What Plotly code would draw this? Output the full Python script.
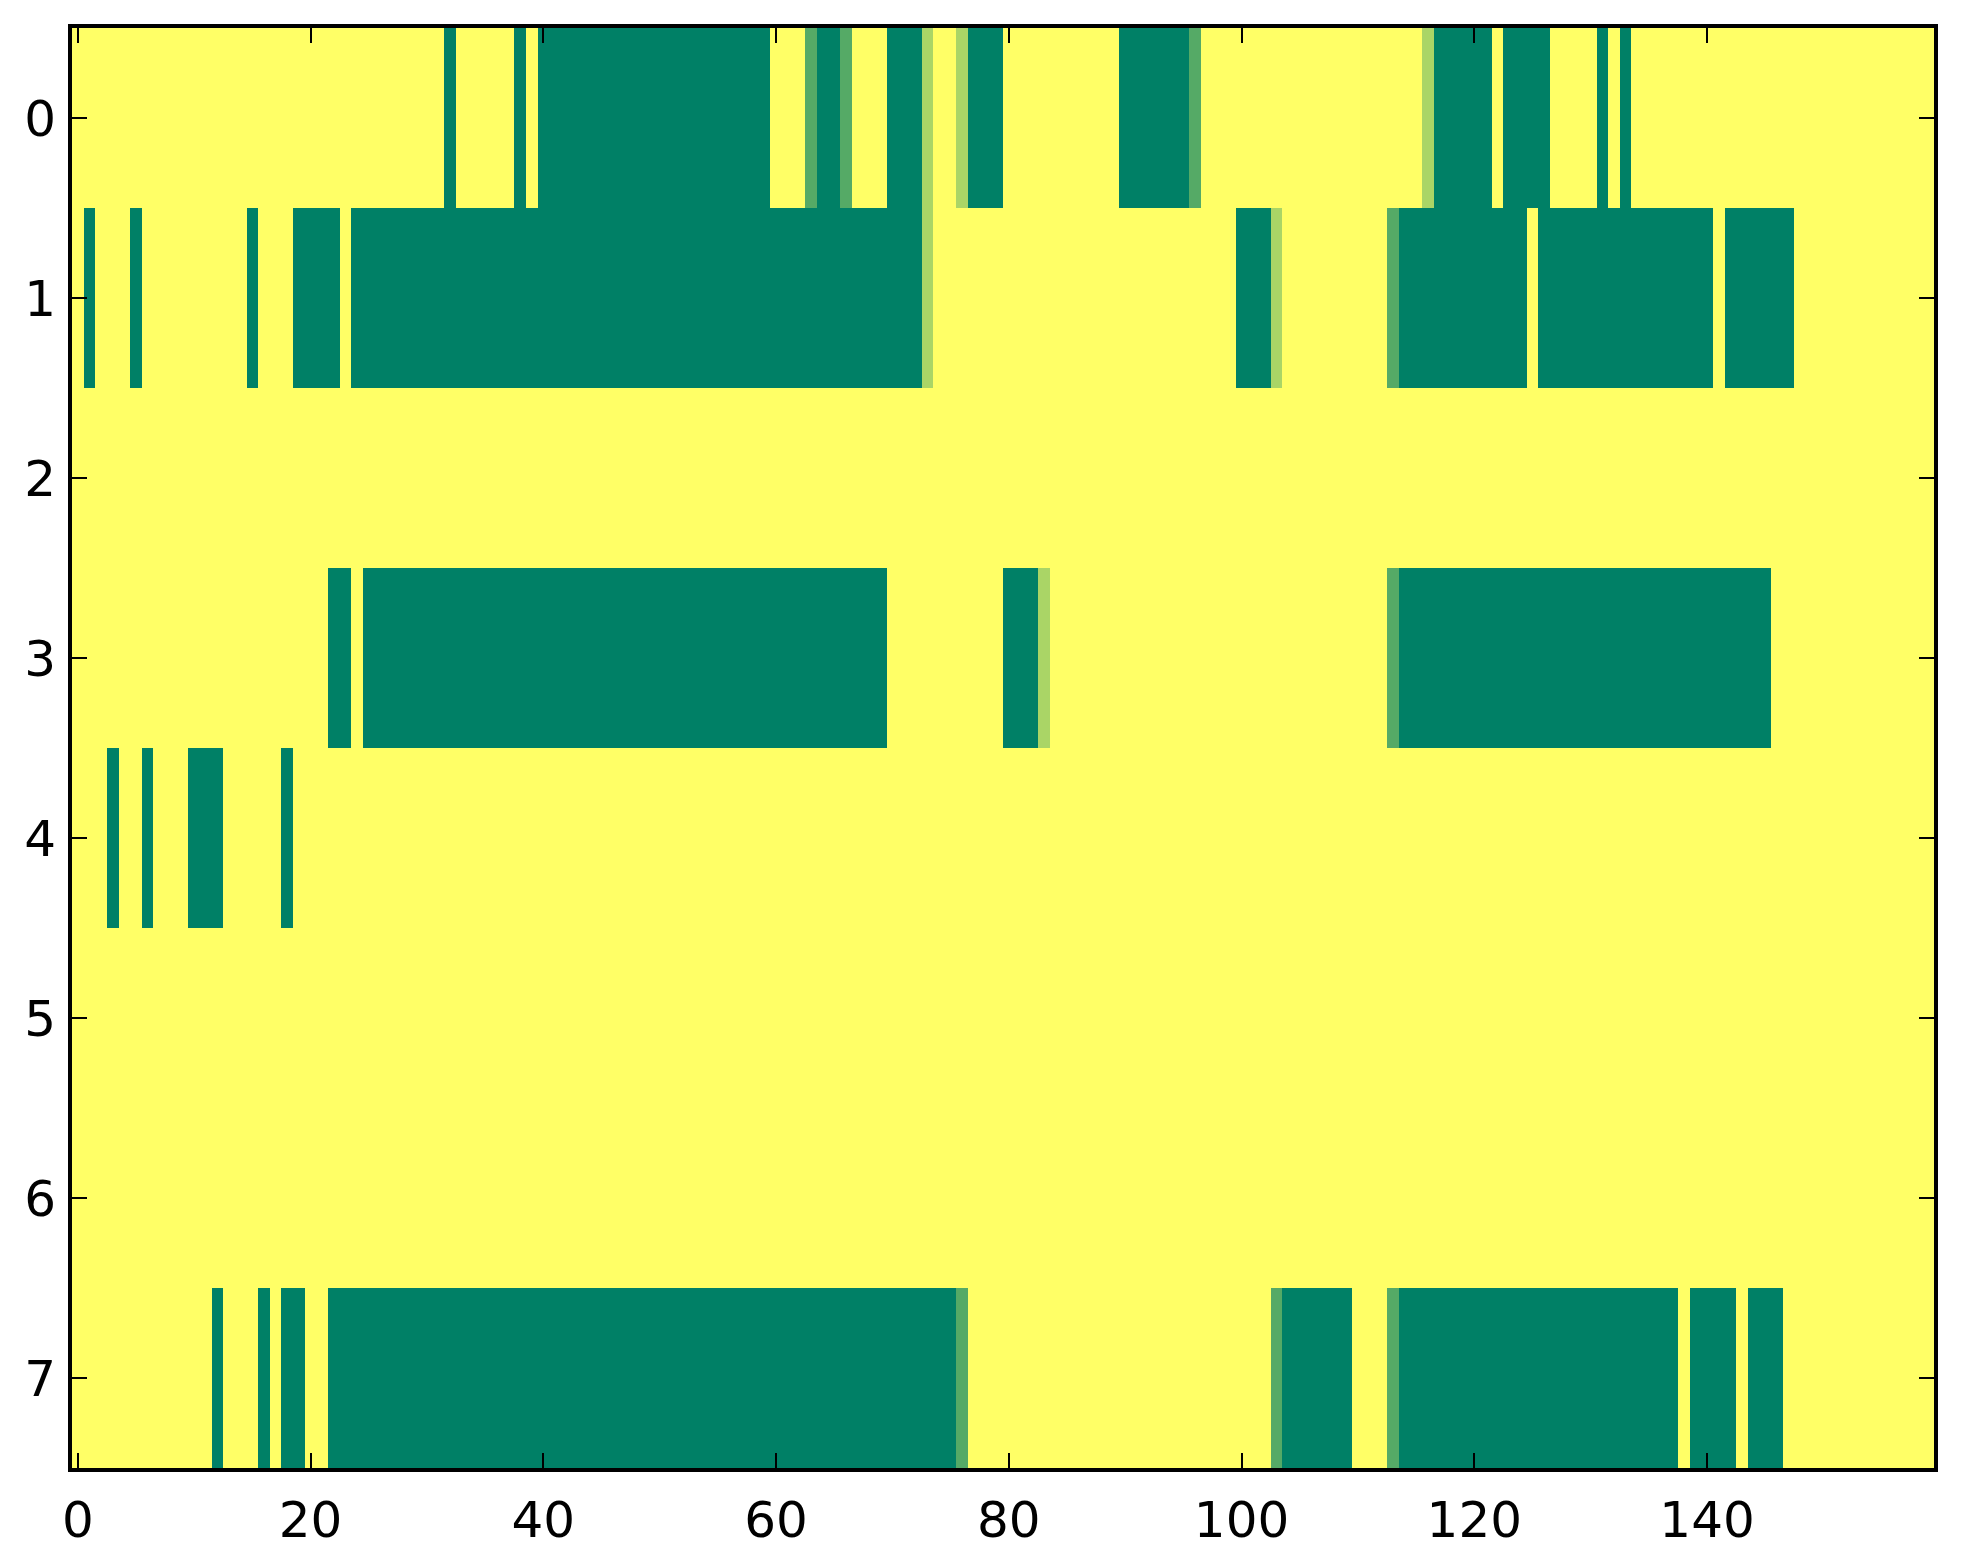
import numpy as np
import plotly.graph_objects as go

# cell values, one char per column (0..159)
# 0 = 0.0 (dark green), 1 = 1/3, 2 = 2/3, 3 = 1.0 (yellow)
row_0 = ("3333333333 3333333333 3333333333 3303333303 0000000000 0000000000 3331001333 0002332000 "
         "3333333333 0000001333 3333333333 3333332000 0030000333 3030333333 3333333333 3333333333")
row_1 = ("3033303333 3333303330 0003000000 0000000000 0000000000 0000000000 0000000000 0002333333 "
         "3333333333 3333333333 0002333333 3331000000 0000030000 0000000000 0300000033 3333333333")
row_2 = ("3333333333 3333333333 3333333333 3333333333 3333333333 3333333333 3333333333 3333333333 "
         "3333333333 3333333333 3333333333 3333333333 3333333333 3333333333 3333333333 3333333333")
row_3 = ("3333333333 3333333333 3300300000 0000000000 0000000000 0000000000 0000000000 3333333333 "
         "0002333333 3333333333 3333333333 3331000000 0000000000 0000000000 0000003333 3333333333")
row_4 = ("3330330333 0003333303 3333333333 3333333333 3333333333 3333333333 3333333333 3333333333 "
         "3333333333 3333333333 3333333333 3333333333 3333333333 3333333333 3333333333 3333333333")
row_5 = row_2
row_6 = row_2
row_7 = ("3333333333 3303330300 3300000000 0000000000 0000000000 0000000000 0000000000 0000001333 "
         "3333333333 3333333333 3331000000 3331000000 0000000000 0000000030 0003000333 3333333333")

rows = [row_0, row_1, row_2, row_3, row_4, row_5, row_6, row_7]
x_ticks = [0, 20, 40, 60, 80, 100, 120, 140]
y_ticks = [0, 1, 2, 3, 4, 5, 6, 7]

z = np.array([[int(ch) / 3 for ch in r.replace(" ", "")] for r in rows])

# matplotlib "summer" colormap (linear)
summer = [[0.0, "rgb(0,128,102)"], [1.0, "rgb(255,255,102)"]]

fig = go.Figure(go.Heatmap(
    z=z,
    x=np.arange(z.shape[1]),
    y=np.arange(z.shape[0]),
    colorscale=summer,
    zmin=0, zmax=1,
    showscale=False,
    hoverinfo="skip",
))

axis_style = dict(
    showline=True, linecolor="black", linewidth=4, mirror="allticks",
    ticks="inside", ticklen=15, tickwidth=2, tickcolor="black",
    showgrid=False, zeroline=False,
    tickfont=dict(family="DejaVu Sans", size=50, color="black"),
)

fig.update_xaxes(range=[-0.5, z.shape[1] - 0.5], tickvals=x_ticks, ticklabelstandoff=5, **axis_style)
fig.update_yaxes(range=[z.shape[0] - 0.5, -0.5], tickvals=y_ticks, ticklabelstandoff=2, **axis_style)

# page body has an 8px margin, so the figure is sized to fit the window
fig.update_layout(
    width=1955, height=1556,
    margin=dict(l=64, r=29, t=20, b=96),
    paper_bgcolor="white",
    plot_bgcolor="white",
)

fig.write_html("out.html")
